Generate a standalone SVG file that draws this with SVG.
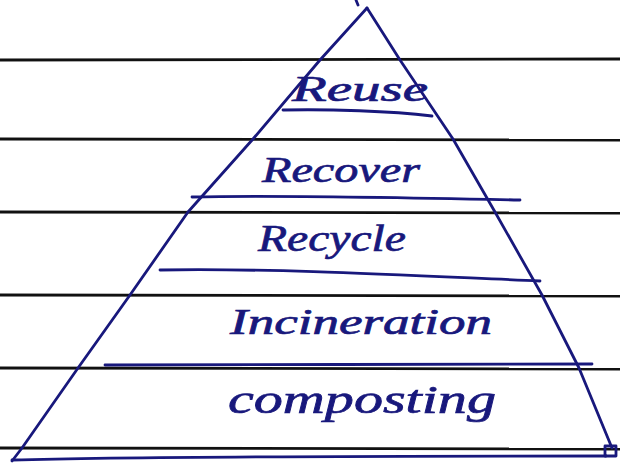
<svg xmlns="http://www.w3.org/2000/svg" width="620" height="463" viewBox="0 0 620 463">
  <style>
    .rule { stroke: #111; stroke-width: 2.8; fill: none; }
    .ink { stroke: #18187c; stroke-width: 2.8; fill: none; stroke-linecap: round; stroke-linejoin: round; }
    .label { font-family: "Liberation Serif", "DejaVu Serif", serif; font-style: italic; fill: #18187c; stroke: #18187c; stroke-width: 0.7; }
  </style>
  <rect width="620" height="463" fill="#ffffff"/>

  <!-- ruled notebook lines -->
  <g id="paper">
    <line class="rule" x1="0" y1="60" x2="620" y2="59"/>
    <line class="rule" x1="0" y1="139" x2="620" y2="140"/>
    <line class="rule" x1="0" y1="212" x2="620" y2="213"/>
    <line class="rule" x1="0" y1="295" x2="620" y2="296"/>
    <line class="rule" x1="0" y1="368" x2="620" y2="369"/>
    <line class="rule" x1="0" y1="448" x2="620" y2="449"/>
  </g>

  <!-- pyramid outline -->
  <g id="pyramid">
    <path class="ink" d="M356,0 L358,5"/>
    <path class="ink" d="M367,8 L320,60 L253,139 L188,212 L130,295 L78,368 L22,448 L12,461"/>
    <path class="ink" d="M367,8 L400,60 L453,139 L495,212 L542,295 L579,368 L612,448"/>
    <path class="ink" d="M12,460 C150,456 400,456 606,456"/>
    <rect class="ink" x="605" y="446" width="11" height="10" stroke-width="2"/>
  </g>

  <g id="tier-reuse">
    <path class="ink" d="M283,110 C330,109 390,111 432,116"/>
    <text class="label" x="292" y="101" font-size="36" textLength="136" lengthAdjust="spacingAndGlyphs">Reuse</text>
  </g>

  <g id="tier-recover">
    <path class="ink" d="M192,197 C260,195 380,197 520,200"/>
    <text class="label" x="262" y="182" font-size="36" textLength="158" lengthAdjust="spacingAndGlyphs">Recover</text>
  </g>

  <g id="tier-recycle">
    <path class="ink" d="M160,270 C280,268 420,276 540,281"/>
    <text class="label" x="258" y="251" font-size="38" textLength="148" lengthAdjust="spacingAndGlyphs">Recycle</text>
  </g>

  <g id="tier-incineration">
    <path class="ink" d="M105,365 C250,364 450,365 592,364"/>
    <text class="label" x="230" y="334" font-size="36" textLength="262" lengthAdjust="spacingAndGlyphs">Incineration</text>
  </g>

  <g id="tier-composting">
    <text class="label" x="228" y="413" font-size="40" textLength="268" lengthAdjust="spacingAndGlyphs">composting</text>
  </g>
</svg>
